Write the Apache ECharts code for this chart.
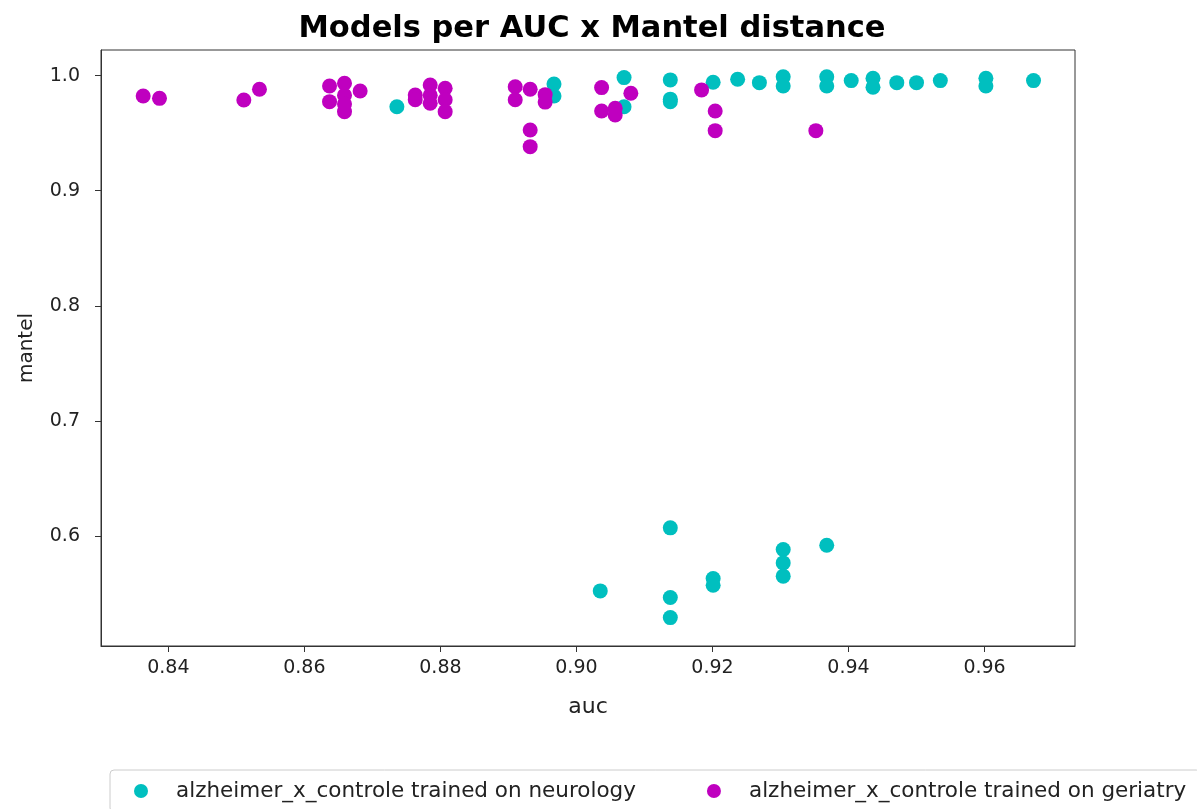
<!DOCTYPE html>
<html>
<head>
<meta charset="utf-8">
<script src="https://cdn.jsdelivr.net/npm/echarts@6/dist/echarts.min.js"></script>
<style>
  html, body { margin: 0; padding: 0; background: #fff; }
  #main { width: 1197px; height: 809px; }
</style>
</head>
<body>
<div id="main"></div>
<script>
// values
var xTicks = [0.84, 0.86, 0.88, 0.90, 0.92, 0.94, 0.96];
var yTicks = [0.6, 0.7, 0.8, 0.9, 1.0];

var neuroAuc = [0.8736, 0.8967, 0.8967, 0.907, 0.907, 0.9138, 0.9138, 0.9138, 0.9201, 0.9237,
    0.9269, 0.9304, 0.9304, 0.9368, 0.9368, 0.9404, 0.9436, 0.9436, 0.9471, 0.950,
    0.9535, 0.9602, 0.9602, 0.9672,
    0.9035, 0.9138, 0.9138, 0.9138, 0.9201, 0.9201, 0.9304, 0.9304, 0.9304, 0.9368];
var neuroMantel = [0.973, 0.9928, 0.9823, 0.9983, 0.973, 0.9963, 0.9774, 0.9796, 0.9943, 0.9969,
    0.9939, 0.9991, 0.991, 0.9991, 0.991, 0.9957, 0.9977, 0.9899, 0.9939, 0.9939,
    0.9957, 0.9977, 0.991, 0.9957,
    0.5522, 0.6070, 0.5464, 0.529, 0.563, 0.5571, 0.5882, 0.5765, 0.565, 0.5919];

var geriAuc = [0.8363, 0.8387, 0.8511, 0.8534, 0.8637, 0.8637, 0.8659, 0.8659, 0.8659, 0.8659,
    0.8682, 0.8763, 0.8763, 0.8785, 0.8785, 0.8785, 0.8807, 0.8807, 0.8807, 0.891,
    0.891, 0.8932, 0.8932, 0.8932, 0.8954, 0.8954, 0.9037, 0.9037, 0.9057, 0.9057,
    0.908, 0.9184, 0.9204, 0.9204, 0.9352];
var geriMantel = [0.9823, 0.9803, 0.9789, 0.9882, 0.991, 0.9774, 0.9934, 0.983, 0.9754, 0.9687,
    0.9867, 0.9832, 0.979, 0.9919, 0.983, 0.976, 0.989, 0.979, 0.9687, 0.9904,
    0.979, 0.9882, 0.9528, 0.9383, 0.9835, 0.977, 0.9896, 0.9693, 0.9717, 0.9658,
    0.9847, 0.9876, 0.9693, 0.9522, 0.9522];

function zip(a, b) {
    var out = [];
    for (var i = 0; i < a.length; i++) {
        out.push([a[i], b[i]]);
    }
    return out;
}

var font = 'DejaVu Sans';
var myChart = echarts.init(document.getElementById('main'));

var option = {
    animation: false,
    textStyle: { fontFamily: font },
    title: {
        text: 'Models per AUC x Mantel distance',
        left: 587,
        textAlign: 'center',
        top: 9,
        textStyle: { fontFamily: font, fontSize: 30.5, fontWeight: 'bold', color: '#000' }
    },
    legend: {
        left: 110,
        top: 770,
        width: 1400,
        padding: [10, 14, 10, 24],
        itemGap: 71,
        itemWidth: 14,
        itemHeight: 14,
        borderColor: '#ccc',
        borderWidth: 1,
        borderRadius: 4,
        icon: 'circle',
        textStyle: { fontFamily: font, fontSize: 21.5, color: '#222', padding: [0, 0, 0, 23] },
        data: ['alzheimer_x_controle trained on neurology', 'alzheimer_x_controle trained on geriatry']
    },
    grid: {
        left: 101,
        right: 122,
        top: 50,
        bottom: 163,
        show: true,
        borderColor: '#333',
        borderWidth: 1
    },
    xAxis: {
        type: 'value',
        min: 0.8301,
        max: 0.9733,
        name: 'auc',
        nameLocation: 'middle',
        nameGap: 50,
        nameTextStyle: { fontFamily: font, fontSize: 22, color: '#222' },
        splitLine: { show: false },
        axisLine: { show: true, onZero: false, lineStyle: { color: '#333' } },
        axisTick: { show: true, length: 6, customValues: xTicks, lineStyle: { color: '#333' } },
        axisLabel: {
            customValues: xTicks,
            fontSize: 19,
            color: '#222',
            margin: 13,
            formatter: function (v) { return v.toFixed(2); }
        }
    },
    yAxis: {
        type: 'value',
        min: 0.5043,
        max: 1.0223,
        name: 'mantel',
        nameLocation: 'middle',
        nameGap: 64,
        nameTextStyle: { fontFamily: font, fontSize: 20, color: '#222' },
        splitLine: { show: false },
        axisLine: { show: true, onZero: false, lineStyle: { color: '#333' } },
        axisTick: { show: true, length: 6, customValues: yTicks, lineStyle: { color: '#333' } },
        axisLabel: {
            customValues: yTicks,
            fontSize: 19,
            color: '#222',
            margin: 21,
            formatter: function (v) { return v.toFixed(1); }
        }
    },
    series: [
        {
            name: 'alzheimer_x_controle trained on neurology',
            type: 'scatter',
            symbolSize: 15,
            itemStyle: { color: '#00bfbf', opacity: 1 },
            data: zip(neuroAuc, neuroMantel)
        },
        {
            name: 'alzheimer_x_controle trained on geriatry',
            type: 'scatter',
            symbolSize: 15,
            itemStyle: { color: '#bf00bf', opacity: 1 },
            data: zip(geriAuc, geriMantel)
        }
    ]
};

myChart.setOption(option);
</script>
</body>
</html>
